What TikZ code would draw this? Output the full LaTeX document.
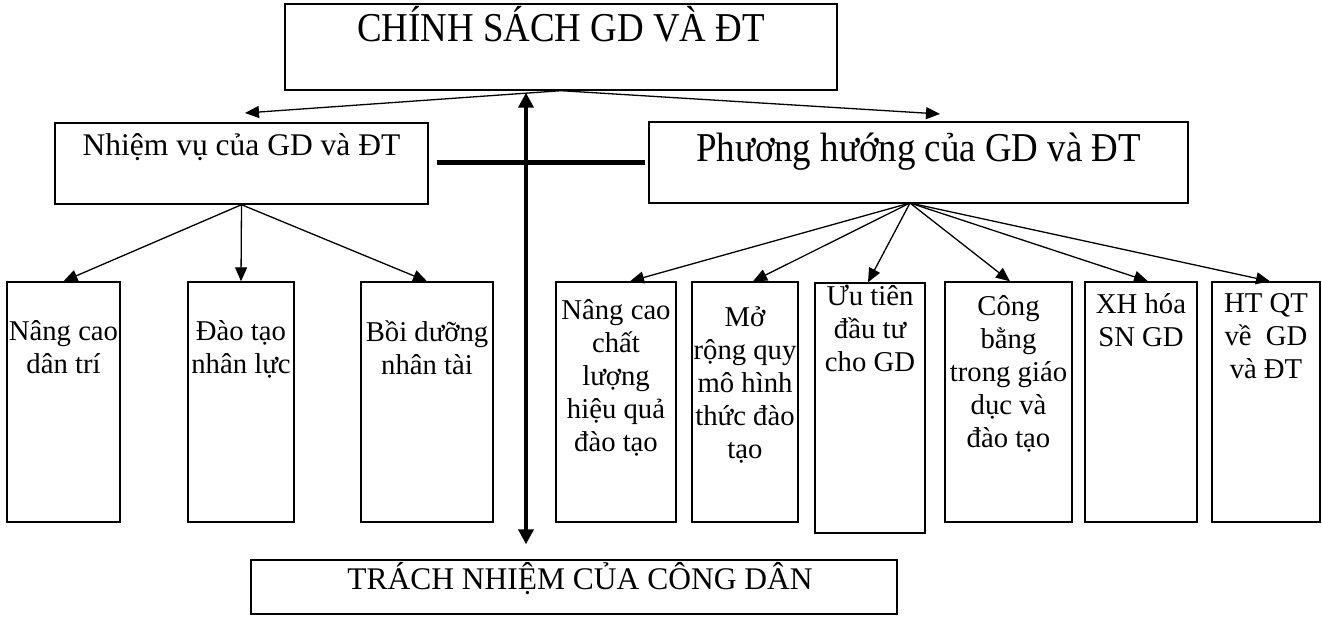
\documentclass[tikz,border=0pt]{standalone}
\usepackage{fontspec}
\setmainfont{Liberation Serif}
\newfontfamily\condfont[FakeStretch=0.9]{Liberation Serif}
\usetikzlibrary{arrows.meta,positioning}

\begin{document}
\begin{tikzpicture}[x=1pt,y=-1pt,
  panel/.style={draw,line width=1.4pt,inner sep=0pt,minimum height=240pt},
  word/.style={inner sep=0pt,anchor=north,align=center,font=\fontsize{28.7}{33}\selectfont,
    execute at begin node={\rule{0pt}{26pt}}},
  arr/.style={line width=1.3pt,-{Triangle[length=14pt,width=12pt]}}]
\useasboundingbox (0,0) rectangle (1322,623);

% top level
\node[panel,minimum width=552pt,minimum height=86pt] (policy) at (561,47) {};
\node[inner sep=0pt,anchor=base,font=\condfont\fontsize{41}{47}\selectfont] (policytxt) at ([yshift=-38pt]policy.north) {CHÍNH SÁCH GD VÀ ĐT};

\node[panel,minimum width=373pt,minimum height=81pt] (duty) at (241.5,163.5) {};
\node[inner sep=0pt,anchor=base,font=\fontsize{31.5}{36}\selectfont] (dutytxt) at ([yshift=-33pt]duty.north) {Nhiệm vụ của GD và ĐT};

\node[panel,minimum width=539pt,minimum height=81pt] (dir) at (918.5,162.5) {};
\node[inner sep=0pt,anchor=base,font=\condfont\fontsize{41}{47}\selectfont] (dirtxt) at ([yshift=-40pt]dir.north) {Phương hướng của GD và ĐT};

\node[panel,minimum width=646pt,minimum height=54pt] (citizen) at (574,587) {};
\node[inner sep=0pt,anchor=base,font=\fontsize{31.5}{36}\selectfont] (citizentxt) at ([xshift=6pt,yshift=-30pt]citizen.north) {TRÁCH NHIỆM CỦA CÔNG DÂN};

% tasks
\node[panel,minimum width=113pt] (n1) at (63.5,402) {};
\node[panel,minimum width=106pt] (n2) at (241,402) {};
\node[panel,minimum width=132pt] (n3) at (427,402) {};
\node[word,below=39pt of n1.north] (n1txt) {Nâng cao\\dân trí};
\node[word,below=39pt of n2.north] (n2txt) {Đào tạo\\nhân lực};
\node[word,below=39pt of n3.north] (n3txt) {Bồi dưỡng\\nhân tài};

% directions
\node[panel,minimum width=120pt] (p1) at (616,402) {};
\node[panel,minimum width=106pt] (p2) at (745,402) {};
\node[panel,minimum width=110pt,minimum height=250pt] (p3) at (870,408) {};
\node[panel,minimum width=127pt] (p4) at (1008.5,402) {};
\node[panel,minimum width=112pt] (p5) at (1141,402) {};
\node[panel,minimum width=108pt] (p6) at (1266,402) {};
\node[word,below=18pt of p1.north] (p1txt) {Nâng cao\\chất\\lượng\\hiệu quả\\đào tạo};
\node[word,below=25pt of p2.north] (p2txt) {Mở\\rộng quy\\mô hình\\thức đào\\tạo};
\node[word,below=2pt of p3.north] (p3txt) {Ưu tiên\\đầu tư\\cho GD};
\node[word,below=14pt of p4.north] (p4txt) {Công\\bằng\\trong giáo\\dục và\\đào tạo};
\node[word,below=12pt of p5.north] (p5txt) {XH hóa\\SN GD};
\node[word,below=12pt of p6.north] (p6txt) {HT QT\\về\ \ GD\\và ĐT};

% connectors
\coordinate (dutytip) at (245,113);
\coordinate (dirtip) at (940,114);
\coordinate (fork) at (910,203);
\coordinate (axis) at (526,0);

\draw[arr] (policy.south) -- (dutytip);
\draw[arr] (policy.south) -- (dirtip);

\draw[arr] (duty.south) -- (n1.north);
\draw[arr] (duty.south) -- (n2.north);
\draw[arr] (duty.south) -- (n3.north);

\draw[arr] (fork) -- ([xshift=14pt]p1.north);
\draw[arr] (fork) -- ([xshift=8pt]p2.north);
\draw[arr] (fork) -- ([xshift=-2pt]p3.north);
\draw[arr] (fork) -- ([xshift=1.5pt]p4.north);
\draw[arr] (fork) -- ([xshift=7pt]p5.north);
\draw[arr] (fork) -- ([xshift=4pt]p6.north);

\draw[line width=5.5pt,shorten <=8pt,shorten >=3pt] (duty.east |- dir.west) -- (dir.west);
\draw[line width=4pt,{Triangle[length=15pt,width=15pt]}-{Triangle[length=15pt,width=15pt]},shorten <=2pt,shorten >=15pt]
  (policy.south -| axis) -- (citizen.north -| axis);
\end{tikzpicture}
\end{document}
